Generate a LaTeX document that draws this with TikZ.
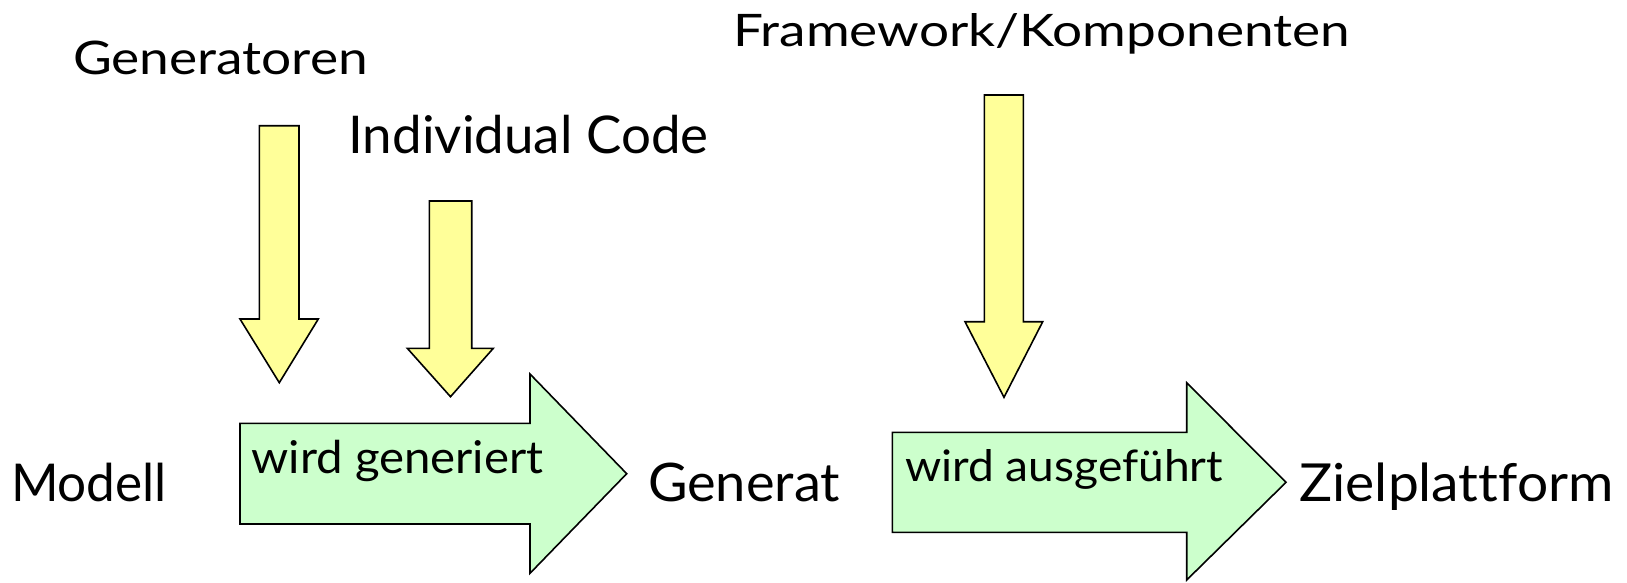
\documentclass[tikz,border=0pt]{standalone}
\usepackage{fontspec}
\setmainfont{Lato}[Ligatures=NoCommon]
\usepackage{graphicx}
\definecolor{arrowyellow}{HTML}{FFFF99}
\definecolor{arrowgreen}{HTML}{CCFFCC}
\newsavebox\fitbox
\newlength\fitwd
\newlength\fitht
% #1 target width, #2 target height above baseline (in pt = px), #3 text
\newcommand\fittext[3]{%
  \sbox\fitbox{\fontsize{40}{48}\selectfont #3}%
  \setlength\fitwd{\wd\fitbox}%
  \setlength\fitht{\ht\fitbox}%
  \pgfmathsetmacro\fitsx{#1/\fitwd}%
  \pgfmathsetmacro\fitsy{#2/\fitht}%
  \scalebox{\fitsx}[\fitsy]{\usebox\fitbox}}
\begin{document}
\begin{tikzpicture}[x=1pt,y=-1pt,
  blockarrow/.style={draw=black,line width=1.6pt,line join=miter},
  yarrow/.style={blockarrow,fill=arrowyellow},
  garrow/.style={blockarrow,fill=arrowgreen},
  lbl/.style={anchor=base west,inner sep=0pt,outer sep=0pt}]
\useasboundingbox (0,0) rectangle (1627,582);
% yellow input arrows
\draw[yarrow] (259.3,125.7) -- (299,125.7) -- (299,319) -- (318.3,319) -- (279.3,382.7) -- (240,319) -- (259.3,319) -- cycle;
\draw[yarrow] (429.3,201) -- (471.7,201) -- (471.7,348.3) -- (493.3,348.3) -- (450.5,396.7) -- (407.3,348.3) -- (429.3,348.3) -- cycle;
\draw[yarrow] (984.3,95) -- (1023.3,95) -- (1023.3,321.7) -- (1042.7,321.7) -- (1004,397.3) -- (965,321.7) -- (984.3,321.7) -- cycle;
% green process arrows
\draw[garrow] (240,423.3) -- (530,423.3) -- (530,374) -- (626.7,473.7) -- (530,573.3) -- (530,524) -- (240,524) -- cycle;
\draw[garrow] (892.3,432.3) -- (1186.7,432.3) -- (1186.7,382.7) -- (1286,482.3) -- (1186.7,580) -- (1186.7,532.3) -- (892.3,532.3) -- cycle;
% labels
\node[lbl] (gen) at (73,74.3) {\fittext{295}{33.5}{Generatoren}};
\node[lbl] (ind) at (348.5,153.3) {\fittext{360}{38.3}{Individual Code}};
\node[lbl] (fw) at (733,46.7) {\fittext{617}{33}{Framework/Komponenten}};
\node[lbl] (modell) at (11,501.7) {\fittext{156}{38.4}{Modell}};
\node[lbl] (generat) at (648,501.7) {\fittext{192}{38.5}{Generat}};
\node[lbl] (ziel) at (1299.5,501.7) {\fittext{314}{38.6}{Zielplattform}};
\node[lbl] (wg) at (251.5,473.3) {\fittext{292}{33.3}{wird generiert}};
\node[lbl] (wa) at (905,481.7) {\fittext{318}{32}{wird ausgeführt}};
\end{tikzpicture}
\end{document}
